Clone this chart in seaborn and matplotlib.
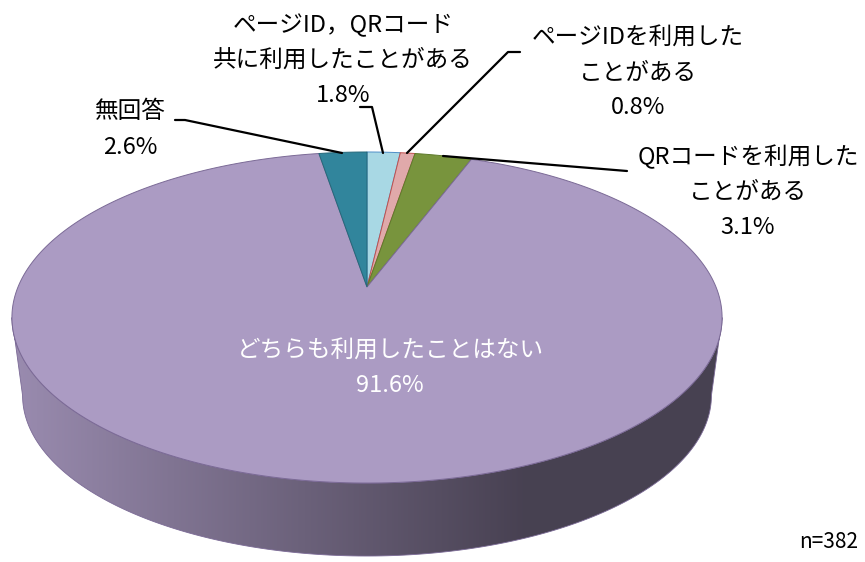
import numpy as np
import matplotlib
matplotlib.use("Agg")
import matplotlib.pyplot as plt
from matplotlib.patches import Polygon
from matplotlib.colors import to_rgb
import seaborn as sns

# data
labels = ["ページID，QRコード\n共に利用したことがある",
          "ページIDを利用した\nことがある",
          "QRコードを利用した\nことがある",
          "どちらも利用したことはない",
          "無回答"]
values = [1.8, 0.8, 3.1, 91.6, 2.6]
colors = ["#a8d8e4", "#e0a9aa", "#78943d", "#ab9bc3", "#31859c"]
edges = ["#4f8fc7", "#c0504d", "#5e7a2c", "#7b6a96", "#25687a"]
n_total = 382

sns.set_style("white")
plt.rcParams["font.family"] = ["Noto Sans CJK JP", "DejaVu Sans"]

# label layout (center x, first line y, text colour, leader polyline)
label_pos = [(343, 25, "black", [(360, 107), (372, 107), (383, 153)]),
             (638, 38, "black", [(520, 52), (508, 52), (407, 153)]),
             (748, 157, "black", [(627, 171), (443, 156)]),
             (390, 351, "white", None),
             (130, 112, "black", [(175, 120), (185, 120), (342, 153)])]
line_gap = 35

# perspective projection of the pie's top face
CX, P, Q, K, A = 367, 287, -107.0, 0.1843, 349
ECY, SHRINK, DEPTH = 317, 0.97, 78


def top_xy(theta):
    u, v = np.sin(theta), np.cos(theta)
    d = 1 + K * v
    return CX + A * u / d, (P + Q * v) / d


def bottom_xy(theta):
    x, y = top_xy(theta)
    return CX + SHRINK * (x - CX), ECY + SHRINK * (y - ECY) + DEPTH


fig = plt.figure(figsize=(8.65, 5.62), dpi=100)
ax = fig.add_axes([0, 0, 1, 1])
ax.set_xlim(0, 865)
ax.set_ylim(562, 0)
ax.axis("off")

fracs = np.array(values) / sum(values)
bounds = np.concatenate([[0], np.cumsum(fracs)]) * 2 * np.pi

# side wall (front half only)
t_r, t_l = np.arccos(-K), 2 * np.pi - np.arccos(-K)
for i, c in enumerate(colors):
    a0, a1 = max(bounds[i], t_r), min(bounds[i + 1], t_l)
    if a1 <= a0:
        continue
    th = np.linspace(a0, a1, 200)
    tx, ty = top_xy(th)
    bx, by = bottom_xy(th)
    pts = np.column_stack([np.concatenate([tx, bx[::-1]]),
                           np.concatenate([ty, by[::-1]])])
    poly = Polygon(pts, closed=True, facecolor="none", edgecolor=edges[i], lw=0.6, zorder=2)
    ax.add_patch(poly)
    xs = np.linspace(pts[:, 0].min(), pts[:, 0].max(), 400)
    t = (xs - xs.min()) / (xs.max() - xs.min())
    f = 0.9 - 0.48 * np.minimum(t / 0.72, 1)
    grad = np.array(to_rgb(c))[None, None, :] * f[None, :, None]
    im = ax.imshow(grad, extent=[xs.min(), xs.max(), pts[:, 1].max(), pts[:, 1].min()],
                   aspect="auto", zorder=1, interpolation="bilinear")
    im.set_clip_path(poly)

# top face slices
for i, c in enumerate(colors):
    th = np.linspace(bounds[i], bounds[i + 1], 300)
    x, y = top_xy(th)
    pts = np.column_stack([np.concatenate([[CX], x]), np.concatenate([[P], y])])
    ax.add_patch(Polygon(pts, closed=True, facecolor=c, edgecolor=edges[i],
                         lw=0.7, zorder=3))

# labels and leader lines
for i, (lx, ly, tc, leader) in enumerate(label_pos):
    lines = labels[i].split("\n") + [f"{values[i]}%"]
    for j, s in enumerate(lines):
        ax.text(lx, ly + j * line_gap, s, ha="center", va="center",
                fontsize=17, color=tc, zorder=5)
    if leader:
        lxs, lys = zip(*leader)
        ax.plot(lxs, lys, color="black", lw=1.6, zorder=4)

ax.text(858, 542, f"n={n_total}", ha="right", va="center", fontsize=15, color="black")

fig.savefig("out.png", dpi=100)
